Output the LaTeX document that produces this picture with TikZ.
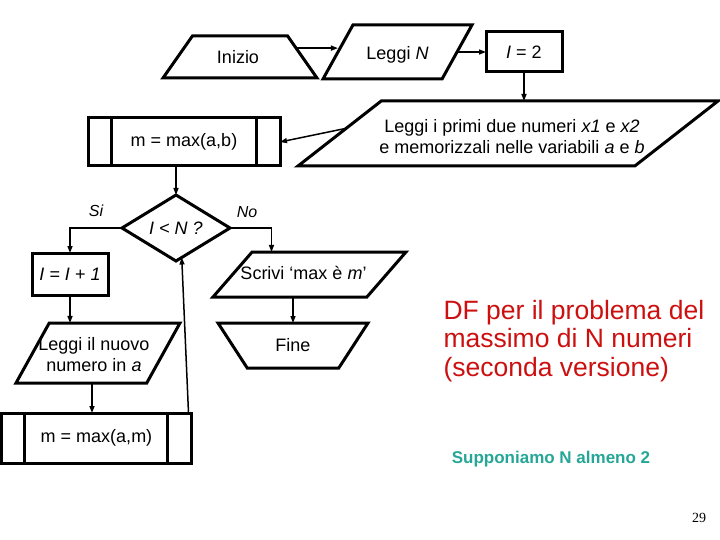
\documentclass[tikz,border=0pt]{standalone}
\usepackage{fontspec}
\setmainfont{Liberation Sans}
\newfontfamily\pagenumfont{Liberation Serif}
\usepackage{xcolor}
\usepackage{tikz}
\usetikzlibrary{positioning,arrows.meta,shapes,shapes.geometric,calc}
\definecolor{titlered}{RGB}{204,16,16}
\definecolor{noteteal}{RGB}{38,166,150}

\tikzset{
  base/.style={draw, line width=3pt, inner sep=1pt, outer sep=0pt,
               align=center, font=\fontsize{18}{21}\selectfont},
  inside/.style={font=\fontsize{18}{21}\selectfont, align=center, inner sep=0pt},
  procbox/.style={base, rectangle},
  io/.style 2 args={base, trapezium, trapezium stretches body=true, inner xsep=0pt,
               trapezium left angle=#1, trapezium right angle=#2},
  term/.style={base, trapezium, trapezium stretches body=true, inner xsep=0pt,
               trapezium left angle=#1, trapezium right angle=#1},
  test/.style={base, diamond, aspect=1.6},
  arr/.style={line width=1.5pt, -{Triangle[length=7pt,width=5pt]}},
  lbl/.style={font=\fontsize{16}{18}\selectfont\itshape},
}

\begin{document}
\begin{tikzpicture}[x=1pt,y=-1pt]
  \useasboundingbox (0,0) rectangle (720,540);

  % top row
  \node[term={55}, inner ysep=21, minimum width=154,
        label={[inside, xshift=-2]center:Inizio}] (inizio) at (240,57) {};
  \node[io={61}{119}, inner ysep=27, minimum width=149,
        label={[inside, yshift=-3]center:Leggi \textit{N}}] (leggiN) at (397.5,52) {};
  \node[procbox, minimum width=76, minimum height=40] (i2) at (524,52) {\textit{I} = 2};
  \node[io={38}{142}, inner ysep=32.5, minimum width=420,
        label={[inside, xshift=4, yshift=-3]center:Leggi i primi due numeri \textit{x1} e \textit{x2}\\ e memorizzali nelle variabili \textit{a} e \textit{b}}]
        (leggi2) at (508,133.5) {};
  \node[procbox, minimum width=192, minimum height=48] (mab) at (184,142) {m = max(a,b)};

  % loop
  \node[test, minimum width=108, minimum height=66] (dia) at (176,228) {\textit{I < N ?}};
  \node[procbox, minimum width=76, minimum height=42] (inc) at (70,274) {\textit{I = I + 1}};
  \node[io={61}{119}, inner ysep=30, minimum width=164,
        label={[inside, xshift=-4, yshift=-2]center:Leggi il nuovo\\ numero in \textit{a}}] (leggia) at (98,353) {};
  \node[procbox, minimum width=190, minimum height=50] (mam) at (96.5,438) {m = max(a,m)};

  % exit
  \node[io={49}{131}, inner ysep=22.5, minimum width=193,
        label={[inside, xshift=-6, yshift=2]center:Scrivi ‘max è \textit{m}’}] (scrivi) at (309.5,274.5) {};
  \node[term={57}, shape border rotate=180, inner ysep=22.5, minimum width=150,
        label={[inside]center:Fine}] (fine) at (293,345.5) {};

  \node[lbl] (si) at (96,211) {Si};
  \node[lbl] (no) at (247,212) {No};

  % side bars of the process boxes
  \foreach \b in {mab,mam} {
    \draw[line width=3pt] ([xshift=23]\b.north west) -- ([xshift=23]\b.south west);
    \draw[line width=3pt] ([xshift=-24]\b.north east) -- ([xshift=-24]\b.south east);
  }

  \draw[arr] (inizio.9) -- (inizio.9 -| leggiN.west);
  \draw[arr] (leggiN.east |- i2.west) -- (i2.west);
  \draw[arr] (i2.south) -- (i2.south |- leggi2.north);
  \draw[arr] ($(leggi2.top left corner)!0.42!(leggi2.bottom left corner)$) -- (mab.east);
  \draw[arr] (dia.north |- mab.south) -- (dia.north);
  \draw[arr] (dia.west) -| (inc.north);
  \draw[arr] (dia.east) -| ([xshift=-38]scrivi.north);
  \draw[arr] (inc.south) -- (inc.south |- leggia.north);
  \draw[arr] ([xshift=-6]leggia.south) -- ([xshift=-6]leggia.south |- mam.north);
  \draw[arr] (scrivi.south -| fine.north) -- (fine.north);
  \draw[arr] ([xshift=-3]mam.north east) -- (dia.-79);

  % notes
  \node[text=titlered, font=\fontsize{26.5}{28.5}\selectfont, align=left, anchor=west] (titolo) at (440,341)
    {DF per il problema del\\ massimo di N numeri\\ (seconda versione)};
  \node[text=noteteal, font=\fontsize{17}{20}\selectfont\bfseries] (nota) at (551,459) {Supponiamo N almeno 2};
  \node[font=\pagenumfont\fontsize{14}{16}\selectfont] (pag) at (699,518) {29};
\end{tikzpicture}
\end{document}
